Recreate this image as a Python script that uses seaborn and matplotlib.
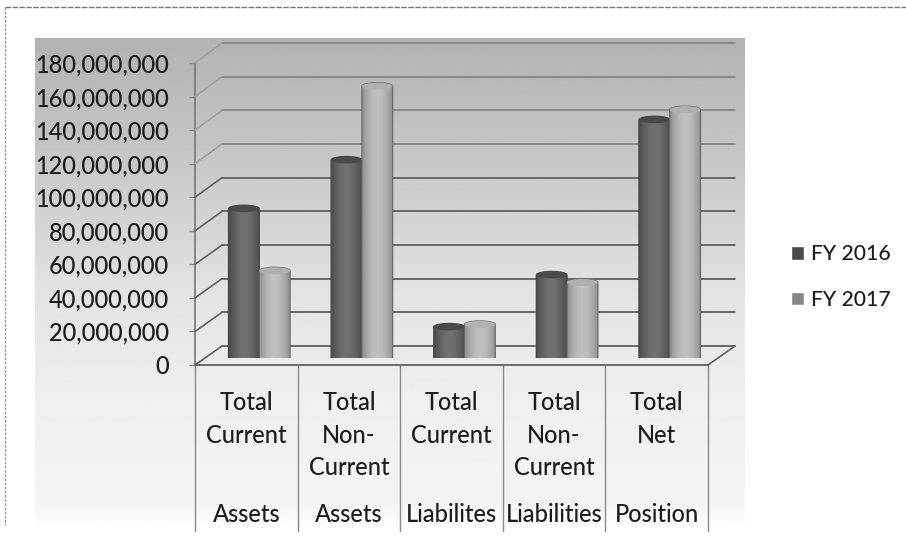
import numpy as np
import pandas as pd
import seaborn as sns
import matplotlib.pyplot as plt
from matplotlib.lines import Line2D
from matplotlib.patches import Polygon, Ellipse, Rectangle

# data
keys = ["cur_a", "non_a", "cur_l", "non_l", "net"]
top_labels = ["Total\nCurrent", "Total\nNon-\nCurrent", "Total\nCurrent", "Total\nNon-\nCurrent", "Total\nNet"]
group_labels = ["Assets", "Assets", "Liabilites", "Liabilities", "Position"]
fy2016 = [89000000, 118000000, 18500000, 49500000, 142000000]
fy2017 = [52000000, 162000000, 20000000, 45000000, 148000000]
yticks = list(range(0, 180000001, 20000000))

W, H = 906, 545

sns.set_style("white")
plt.rcParams["font.family"] = ["Lato", "DejaVu Sans"]
TXT = "#1c1c1c"
LINE = "#5f5f5f"

fig = plt.figure(figsize=(W / 100, H / 100), dpi=100, facecolor="white")


def box(x0, y0, x1, y1):
    # pixel box, y measured from the top of the picture
    a = fig.add_axes([x0 / W, 1 - y1 / H, (x1 - x0) / W, (y1 - y0) / H])
    a.patch.set_visible(False)
    return a


# gradient panel behind everything
bg = box(35, 38, 745, 530)
yy = np.linspace(38, 530, 300)
shade = np.interp(yy, [38, 150, 300, 400, 505, 518, 530], [178, 197, 228, 239, 244, 249, 255]) / 255
bg.imshow(shade[:, None], cmap="gray", vmin=0, vmax=1, aspect="auto")
bg.axis("off")

# back wall with the grid, fainter towards the top as in the scan
back = box(222, 43, 735, 346)
back.set_xlim(-0.5, 4.5)
back.set_ylim(0, 180000000)
back.set_xticks([])
back.set_yticks([])
for t in yticks:
    back.axhline(t, color="#858585" if t > 100000000 else LINE, lw=1.3, clip_on=False)
sns.despine(ax=back, left=True, bottom=True)

# front plane carries the axis and the labels
front = box(195, 63, 708, 365)
front.set_xlim(-0.5, 4.5)
front.set_ylim(0, 180000000)
front.set_yticks(yticks)
front.set_yticklabels([f"{t:,}" for t in yticks], fontsize=17, color=TXT, fontweight="medium")
front.set_xticks(range(5))
front.set_xticklabels(top_labels, fontsize=17, color=TXT, linespacing=1.52, fontweight="medium")
front.tick_params(axis="x", length=0, pad=18.5)
front.tick_params(axis="y", length=4, width=1, color="#8a8a8a", pad=15, left=True)
sns.despine(ax=front, right=True, top=True, bottom=False)
front.spines["left"].set_color("#777777")
front.spines["bottom"].set_color(LINE)
front.spines["left"].set_linewidth(1.2)
front.spines["bottom"].set_linewidth(1.3)

xt = front.get_xaxis_transform()
for x in np.arange(-0.5, 5):
    front.plot([x, x], [0, -0.55], transform=xt, color="#8a8a8a", lw=1, clip_on=False)
for i, g in enumerate(group_labels):
    front.annotate(g, xy=(i, 0), xycoords=xt, xytext=(0, -150), textcoords="offset pixels",
                   ha="center", va="center", fontsize=17, color=TXT, fontweight="medium")

# side wall and floor edges, joining the front plane to the back wall
to_fig = fig.transFigure.inverted()
for t in yticks:
    p0 = to_fig.transform(front.transData.transform((-0.5, t)))
    p1 = to_fig.transform(back.transData.transform((-0.5, t)))
    fig.add_artist(Line2D([p0[0], p1[0]], [p0[1], p1[1]], color="#a0a0a0" if t > 100000000 else LINE, lw=1.2))
p0 = to_fig.transform(front.transData.transform((4.5, 0)))
p1 = to_fig.transform(back.transData.transform((4.5, 0)))
fig.add_artist(Line2D([p0[0], p1[0]], [p0[1], p1[1]], color=LINE, lw=1.2))

# bars stand half way into the depth
bars = box(208, 56, 721, 358)
df = pd.DataFrame({"key": keys, "FY 2016": fy2016, "FY 2017": fy2017}).melt("key", var_name="year", value_name="value")
sns.barplot(data=df, x="key", y="value", hue="year", order=keys, width=0.6, gap=0, legend=False,
            palette=["#555555", "#8a8a8a"], ax=bars)
bars.set_xlim(-0.5, 4.5)
bars.set_ylim(0, 180000000)
bars.axis("off")

per_px = 180000000 / 302
ell_h = 7 * per_px
cyl = np.cos(np.linspace(-1.35, 1.35, 40))
n = len(keys)
for j, p in enumerate(bars.patches):
    dark = j < n
    lo, hi = (66, 112) if dark else (132, 192)
    x0, w, v = p.get_x(), p.get_width(), p.get_height()
    p.set_visible(False)
    cx = x0 + w / 2
    th = np.linspace(np.pi, 2 * np.pi, 30)
    low = np.column_stack([cx + w / 2 * np.cos(th), ell_h / 2 * np.sin(th)])
    upp = np.column_stack([cx + w / 2 * np.cos(th - np.pi), v + ell_h / 2 * np.sin(th - np.pi)])
    outline = Polygon(np.vstack([low, upp]), closed=True, fc="none", ec="#444444" if dark else "#6a6a6a", lw=0.9,
                      zorder=3 + j % n + (n if not dark else 0))
    bars.add_patch(outline)
    im = bars.imshow((lo + (hi - lo) * cyl)[None, :] / 255, cmap="gray", vmin=0, vmax=1, aspect="auto",
                     extent=(x0, x0 + w, -ell_h, v + ell_h), zorder=outline.get_zorder() - 0.5)
    im.set_clip_path(outline)
    bars.add_patch(Ellipse((cx, v), w, ell_h, fc="#4a4a4a" if dark else "#b0b0b0", ec="none",
                           zorder=outline.get_zorder() + 0.1))
bars.set_xlim(-0.5, 4.5)
bars.set_ylim(0, 180000000)

# legend
handles = [Rectangle((0, 0), 1, 1, fc="#4a4a4a"), Rectangle((0, 0), 1, 1, fc="#888888")]
fig.legend(handles, ["FY 2016", "FY 2017"], loc="center left", bbox_to_anchor=(772 / W, 1 - 277 / H), frameon=False,
           labelcolor=TXT, handlelength=0.6, handleheight=0.6, handletextpad=0.35, labelspacing=1.2,
           prop={"size": 15.2, "weight": "medium"})

# scan border of the page
fig.add_artist(Line2D([5 / W, 1], [1 - 7 / H, 1 - 7 / H], color="#777777", lw=1, ls=(0, (4, 1))))
fig.add_artist(Line2D([5 / W, 5 / W], [1 - 7 / H, 1 - 525 / H], color="#999999", lw=1, ls=(0, (2, 1))))

fig.savefig("out.png", dpi=100)
